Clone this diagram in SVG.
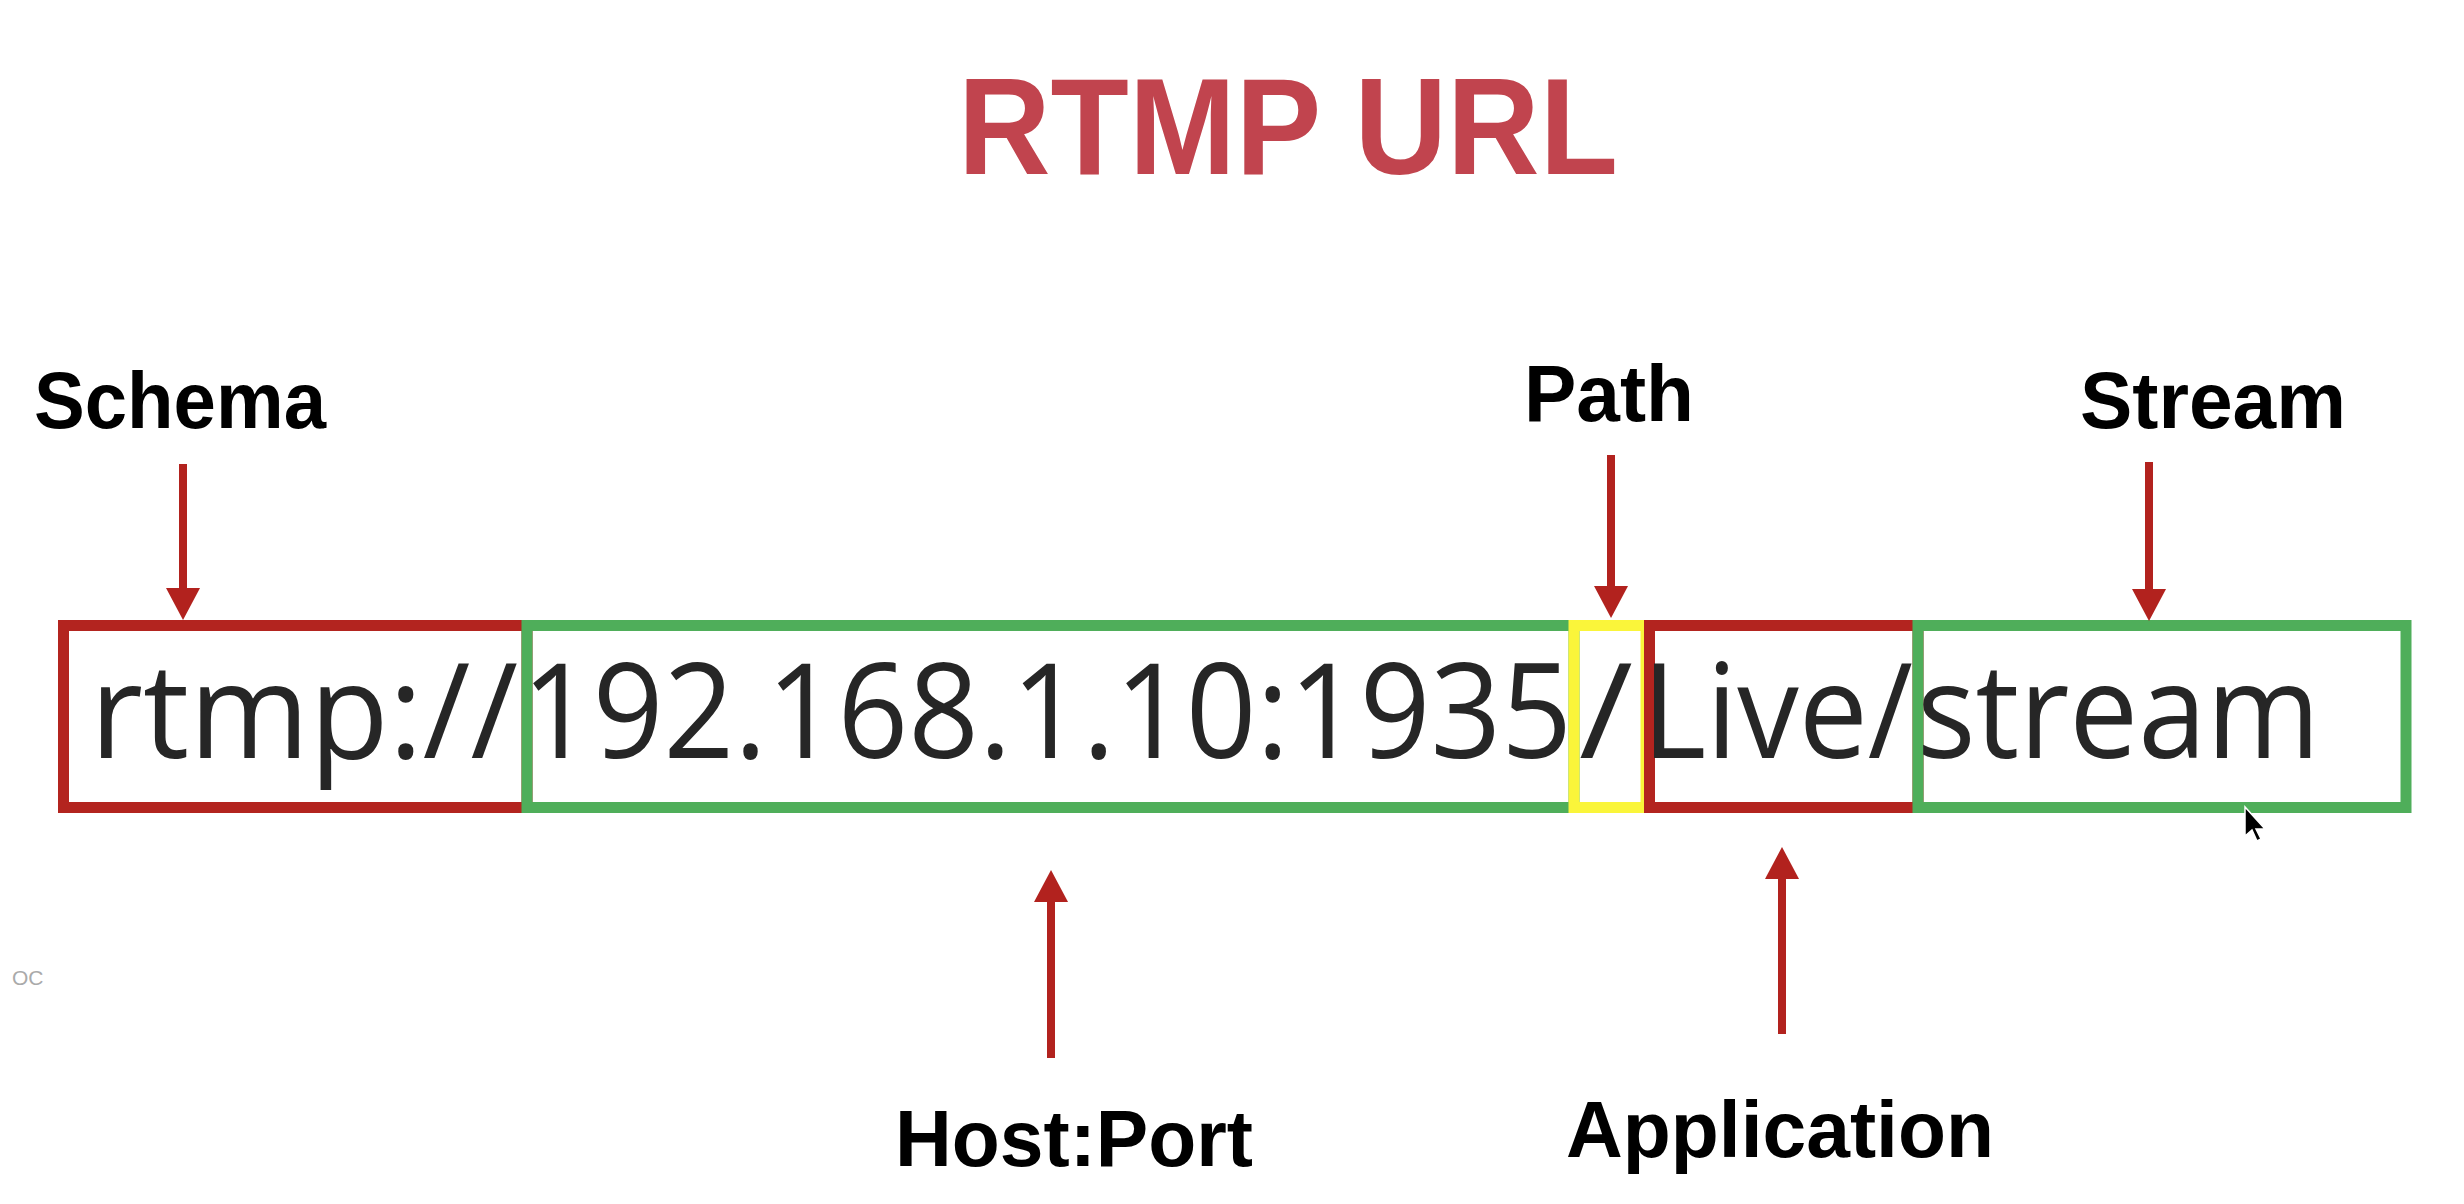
<svg xmlns="http://www.w3.org/2000/svg" width="2464" height="1204" viewBox="0 0 2464 1204">
  <style>
    .title { font-family: "Liberation Sans", Arial, sans-serif; font-weight: 700; font-size: 137px; fill: #C1444E; }
    .label { font-family: "Liberation Sans", Arial, sans-serif; font-weight: 700; font-size: 80px; fill: #000000; }
    .url { font-family: "Open Sans", "Liberation Sans", sans-serif; font-weight: 400; font-size: 132px; fill: #262626; }
    .box { fill: none; stroke-width: 11; }
    .red { stroke: #B3241F; }
    .green { stroke: #4FAE5A; }
    .yellow { stroke: #FAF53A; }
    .arrow { stroke: #B2221E; stroke-width: 8; fill: none; marker-end: url(#head); }
    .faint { font-family: "Liberation Sans", Arial, sans-serif; font-size: 21px; fill: #AAAAAA; }
  </style>
  <defs>
    <marker id="head" viewBox="0 0 32 34" refX="2" refY="17" markerWidth="32" markerHeight="34" markerUnits="userSpaceOnUse" orient="auto">
      <path d="M0,0 L32,17 L0,34 Z" fill="#B2221E"/>
    </marker>
  </defs>
  <rect width="2464" height="1204" fill="#FFFFFF"/>

  <g id="title">
    <text class="title" x="958" y="174" textLength="660" lengthAdjust="spacingAndGlyphs">RTMP URL</text>
  </g>

  <g id="schema-box">
    <rect class="box red" x="63.5" y="625.5" width="463.5" height="182"/>
    <text class="url" x="90" y="758" textLength="428" lengthAdjust="spacingAndGlyphs">rtmp://</text>
  </g>
  <g id="host-box">
    <rect class="box green" x="527" y="625.5" width="1047" height="182"/>
    <text class="url" x="522" y="758" textLength="1050" lengthAdjust="spacingAndGlyphs">192.168.1.10:1935</text>
  </g>
  <g id="path-box">
    <rect class="box yellow" x="1574" y="625.5" width="72" height="182"/>
    <text class="url" x="1579" y="758" textLength="54" lengthAdjust="spacingAndGlyphs">/</text>
  </g>
  <g id="app-box">
    <rect class="box red" x="1649.5" y="625.5" width="268.5" height="182"/>
    <text class="url" x="1642" y="758" textLength="271" lengthAdjust="spacingAndGlyphs">Live/</text>
  </g>
  <g id="stream-box">
    <rect class="box green" x="1918" y="625.5" width="488" height="182"/>
    <text class="url" x="1917" y="758" textLength="403" lengthAdjust="spacingAndGlyphs">stream</text>
  </g>

  <g id="label-schema"><text class="label" x="34" y="428" textLength="292" lengthAdjust="spacingAndGlyphs">Schema</text></g>
  <g id="label-path"><text class="label" x="1524" y="421" textLength="170" lengthAdjust="spacingAndGlyphs">Path</text></g>
  <g id="label-stream"><text class="label" x="2080" y="428" textLength="266" lengthAdjust="spacingAndGlyphs">Stream</text></g>
  <g id="label-hostport"><text class="label" x="895" y="1166" textLength="358" lengthAdjust="spacingAndGlyphs">Host:Port</text></g>
  <g id="label-application"><text class="label" x="1566" y="1157" textLength="428" lengthAdjust="spacingAndGlyphs">Application</text></g>

  <g id="connectors">
    <line class="arrow" x1="183" y1="464" x2="183" y2="590"/>
    <line class="arrow" x1="1611" y1="455" x2="1611" y2="588"/>
    <line class="arrow" x1="2149" y1="462" x2="2149" y2="591"/>
    <line class="arrow" x1="1051" y1="1058" x2="1051" y2="900"/>
    <line class="arrow" x1="1782" y1="1034" x2="1782" y2="877"/>
  </g>

  <text class="faint" x="12" y="985">OC</text>
  <path d="M2245,807 L2245,836 L2252,830 L2257,841 L2261,839 L2256,829 L2265,829 Z" fill="#000000" stroke="#FFFFFF" stroke-width="1.5"/>
</svg>
